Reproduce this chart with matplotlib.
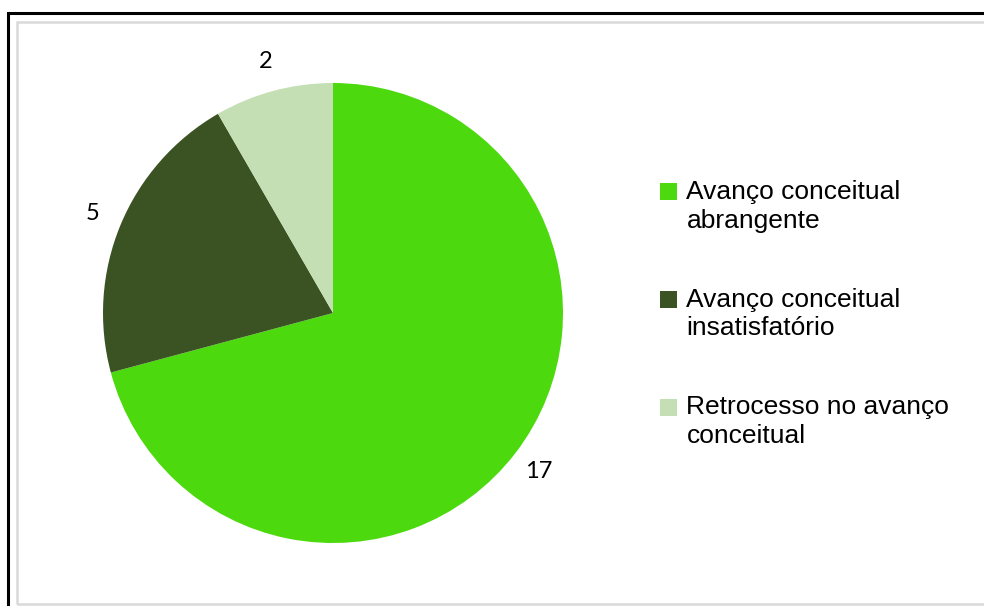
import matplotlib
matplotlib.use("Agg")
import matplotlib.pyplot as plt
from matplotlib.patches import Rectangle, Wedge
from matplotlib.legend_handler import HandlerPatch

categories = ["Avanço conceitual\nabrangente",
              "Avanço conceitual\ninsatisfatório",
              "Retrocesso no avanço\nconceitual"]
values = [17, 5, 2]
colors = ["#4cd90e", "#3b5323", "#c4dfb4"]

W, H = 984, 606
fig = plt.figure(figsize=(W / 100, H / 100), dpi=100)

# frames: black outer, light gray inner (both run off the right/bottom edge)
fig.patches.append(Rectangle((8 / W, -0.1), 1.1, (H - 13) / H + 0.1,
                             transform=fig.transFigure, fill=False,
                             edgecolor="black", linewidth=2.2))
fig.patches.append(Rectangle((17 / W, 2 / H), 1.1, (H - 24) / H,
                             transform=fig.transFigure, fill=False,
                             edgecolor="#d9d9d9", linewidth=1.8))

# pie centre (333, 313) px, radius 230 px
cx, cy, r = 333, 313, 230
ax = fig.add_axes([(cx - r) / W, (H - cy - r) / H, 2 * r / W, 2 * r / H])
wedges, texts = ax.pie(values, colors=colors, startangle=90, counterclock=False,
                       labels=[str(v) for v in values], labeldistance=1.13,
                       textprops=dict(fontsize=17, family="Lato"))
for t in texts:
    t.set_ha("center")
    t.set_va("center")
ax.set_xlim(-1, 1)
ax.set_ylim(-1, 1)
ax.axis("off")


# square handle aligned with the first text line instead of the middle
def top_square(legend, orig_handle, xdescent, ydescent, width, height, fontsize):
    s = 12.2
    return Rectangle((-xdescent, -ydescent + 10.8), s, s)


leg = fig.legend(wedges, categories, loc="upper left",
                 bbox_to_anchor=(660 / W, 1 - 180 / H),
                 frameon=False, prop=dict(family="Liberation Sans", size=19),
                 handlelength=0.65, handleheight=0.65, handletextpad=0.35,
                 labelspacing=2.08, borderaxespad=0, borderpad=0,
                 handler_map={Wedge: HandlerPatch(patch_func=top_square)})
for t in leg.get_texts():
    t.set_linespacing(1.25)

fig.savefig("out.png", dpi=100)
